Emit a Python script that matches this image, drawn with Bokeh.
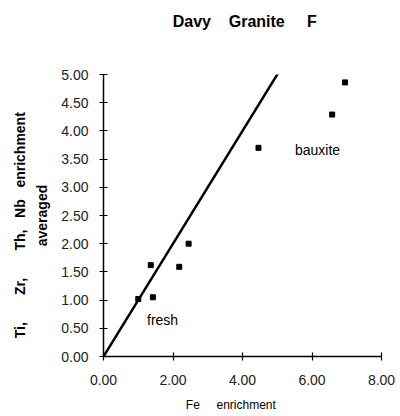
from bokeh.plotting import figure
from bokeh.models import Range1d, FixedTicker, NumeralTickFormatter, Label, Title
from bokeh.embed import file_html
from bokeh.resources import INLINE

# data
fe_enrich = [1.00, 1.42, 1.36, 2.18, 2.45, 4.46, 6.58, 6.95]
hfse_enrich = [1.02, 1.05, 1.62, 1.59, 2.00, 3.70, 4.29, 4.86]
line_x = [0.0, 5.05]
line_y = [0.0, 5.05]
x_ticks = [0, 2, 4, 6, 8]
y_ticks = [0, 0.5, 1, 1.5, 2, 2.5, 3, 3.5, 4, 4.5, 5]
labels = ["fresh", "bauxite"]
label_x = [1.7, 6.16]
label_y = [0.65, 3.66]

NB = "\u00a0"
FONT = "Liberation Sans"
TITLE = NB + "Davy" + NB * 4 + "Granite" + NB * 5 + "F"

p = figure(width=395, height=414, output_backend="svg", toolbar_location=None,
           x_range=Range1d(0, 8), y_range=Range1d(0, 5),
           min_border_left=103, min_border_right=14, min_border_top=74, min_border_bottom=57)
p.title.text = ""
p.outline_line_color = None
p.background_fill_color = "white"
p.xgrid.visible = False
p.ygrid.visible = False

# spacer between frame and title, then the title itself
p.add_layout(Title(text=NB, text_font=FONT, text_font_size="16px", standoff=25,
                   vertical_align="middle"), "above")
p.add_layout(Title(text=TITLE, align="center", vertical_align="middle", standoff=0, offset=0,
                   text_font=FONT, text_font_size="16px", text_font_style="bold",
                   text_color="black"), "above")

for ax in (p.xaxis[0], p.yaxis[0]):
    ax.major_tick_in = 4
    ax.major_tick_out = 4
    ax.minor_tick_line_color = None
    ax.axis_line_width = 1.5
    ax.major_tick_line_width = 1.2
    ax.axis_line_color = "black"
    ax.major_tick_line_color = "black"
    ax.major_label_text_font = FONT
    ax.major_label_text_font_size = "14px"
    ax.major_label_text_color = "#222222"
    ax.formatter = NumeralTickFormatter(format="0.00")
    ax.axis_label_text_font = FONT
    ax.axis_label_text_color = "black"

p.xaxis[0].ticker = FixedTicker(ticks=x_ticks)
p.yaxis[0].ticker = FixedTicker(ticks=y_ticks)
p.xaxis[0].major_label_standoff = 14
p.yaxis[0].major_label_standoff = 11

p.xaxis.axis_label = "Fe" + NB * 5 + "enrichment" + NB * 7
p.xaxis.axis_label_text_font_size = "12px"
p.xaxis.axis_label_text_font_style = "normal"
p.xaxis.axis_label_standoff = 10

p.yaxis.axis_label = ("Ti," + NB * 7 + "Zr," + NB * 7 + "Th," + NB * 3 + "Nb" + NB * 3 + "enrichment" + NB * 5 + "\naveraged")
p.yaxis.axis_label_text_font_size = "14px"
p.yaxis.axis_label_text_font_style = "bold"
p.yaxis.axis_label_text_line_height = 1.4
p.yaxis.axis_label_standoff = 8

p.line(line_x, line_y, line_color="black", line_width=2.5)
p.scatter(fe_enrich, hfse_enrich, marker="square", size=5, color="black")

for t, lx, ly in zip(labels, label_x, label_y):
    p.add_layout(Label(x=lx, y=ly, text=t, text_align="center", text_baseline="middle",
                       text_font=FONT, text_font_size="14px", text_color="black"))

open("out.html", "w").write(file_html(p, INLINE))
